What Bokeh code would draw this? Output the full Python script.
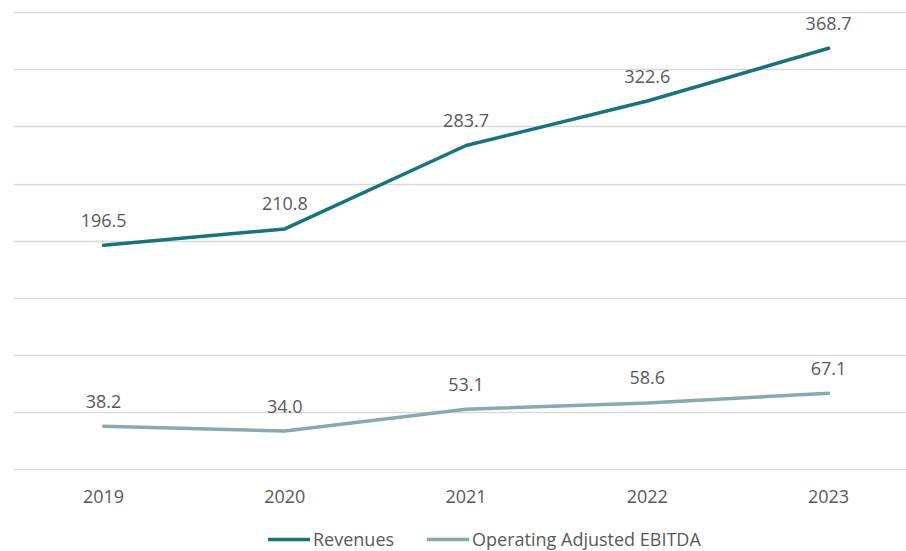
from bokeh.plotting import figure
from bokeh.models import (ColumnDataSource, FixedTicker, Grid, Legend, LegendItem,
                          Range1d)
from bokeh.core.properties import value
from bokeh.embed import file_html
from bokeh.resources import INLINE

years = [2019, 2020, 2021, 2022, 2023]
year_labels = ["2019", "2020", "2021", "2022", "2023"]
revenues = [196.5, 210.8, 283.7, 322.6, 368.7]
ebitda = [38.2, 34.0, 53.1, 58.6, 67.1]
y_ticks = [0, 50, 100, 150, 200, 250, 300, 350, 400]

REV_COLOR = "#14757C"
EBITDA_COLOR = "#86AAB0"
TEXT_COLOR = "#595959"
FONT = "Open Sans"

Y_BOTTOM = -3.06  # where the category axis sits

p = figure(frame_width=893, frame_height=542, output_backend="svg", toolbar_location=None,
           x_range=Range1d(2018.503, 2023.430), y_range=Range1d(-71.26, 402.62),
           y_axis_location=None, min_border_left=13, min_border_right=0,
           min_border_top=9, min_border_bottom=0)
p.outline_line_color = None
p.xgrid.visible = False
p.add_layout(Grid(dimension=1, ticker=FixedTicker(ticks=y_ticks),
                  grid_line_color="#d9d9d9", grid_line_width=1.5))

xa = p.xaxis[0]
xa.fixed_location = Y_BOTTOM
xa.ticker = FixedTicker(ticks=years)
xa.major_label_overrides = {y: l for y, l in zip(years, year_labels)}
xa.axis_line_color = None
xa.major_tick_line_color = None
xa.minor_tick_line_color = None
xa.major_tick_out = 0
xa.major_tick_in = 0
xa.major_label_text_font = FONT
xa.major_label_text_font_size = "18px"
xa.major_label_text_color = TEXT_COLOR
xa.major_label_standoff = 17

src = ColumnDataSource(dict(x=years, rev=revenues, ebitda=ebitda,
                            rev_t=[f"{v:.1f}" for v in revenues],
                            eb_t=[f"{v:.1f}" for v in ebitda]))

r1 = p.line("x", "rev", source=src, line_color=REV_COLOR, line_width=3.5, line_cap="round")
r2 = p.line("x", "ebitda", source=src, line_color=EBITDA_COLOR, line_width=3.5, line_cap="round")

for col, tcol in (("rev", "rev_t"), ("ebitda", "eb_t")):
    p.text("x", col, text=tcol, source=src, text_align="center", text_baseline="middle",
           y_offset=-25, text_font=value(FONT), text_font_size="18px", text_color=TEXT_COLOR)

legend = Legend(items=[LegendItem(label="Revenues", renderers=[r1]),
                       LegendItem(label="Operating Adjusted EBITDA", renderers=[r2])],
                location=(255, 0), orientation="horizontal",
                glyph_width=42, glyph_height=18, label_standoff=3, spacing=33,
                padding=0, margin=0, border_line_color=None, background_fill_alpha=0,
                label_text_font=FONT, label_text_font_size="18px", label_text_color=TEXT_COLOR)
p.add_layout(legend, "center")

open("out.html", "w").write(file_html(p, INLINE))
